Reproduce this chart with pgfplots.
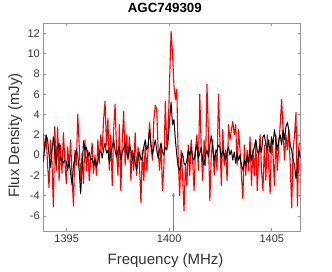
\documentclass[border=0pt]{standalone}
\usepackage{pgfplots}
\pgfplotsset{compat=1.18}
\usepackage{pgfplotstable}
\usepackage{fontspec}
\setmainfont{Liberation Sans}
\usetikzlibrary{arrows.meta}
\definecolor{axgray}{RGB}{150,150,150}
\pgfplotstableread{
f r b
1393.86 2.1 -0.7
1393.93 0.5 0.8
1394.00 1.8 2.0
1394.07 -1.0 1.5
1394.14 -3.2 0.0
1394.21 1.5 -1.2
1394.28 -0.5 0.3
1394.35 -5.1 1.8
1394.42 2.8 0.5
1394.49 -1.5 -1.0
1394.56 2.7 0.5
1394.63 -2.5 1.2
1394.70 1.0 -0.5
1394.77 -1.8 -0.3
1394.84 2.2 -0.8
1394.91 -0.5 -0.5
1394.98 -2.8 -0.6
1395.05 0.8 -1.5
1395.12 -1.2 -0.5
1395.19 1.5 -1.8
1395.26 -2.0 -2.9
1395.33 -5.0 -1.0
1395.40 0.5 -0.3
1395.47 -1.0 0.5
1395.54 4.0 0.0
1395.61 1.0 -1.5
1395.68 -2.5 -3.8
1395.75 0.2 -1.5
1395.82 -2.8 1.4
1395.89 1.5 0.5
1395.96 -1.5 0.8
1396.03 0.5 -0.2
1396.10 -2.5 0.3
1396.17 -0.5 -0.5
1396.24 1.2 -0.3
1396.31 -1.8 -1.0
1396.38 0.0 -0.4
1396.45 -2.0 -1.2
1396.52 1.5 -0.6
1396.59 -0.8 0.2
1396.66 2.0 0.5
1396.73 0.5 -0.3
1396.80 3.5 0.6
1396.87 5.3 1.2
1396.94 1.0 0.2
1397.01 3.6 0.5
1397.08 -1.5 -0.8
1397.15 2.0 0.3
1397.22 -3.0 0.8
1397.29 2.5 1.5
1397.36 5.0 0.5
1397.43 0.5 -0.2
1397.50 -2.0 0.5
1397.57 3.0 0.8
1397.64 -3.5 -0.5
1397.71 1.5 0.3
1397.78 4.3 0.7
1397.85 -1.0 1.2
1397.92 2.0 0.2
1397.99 -0.5 -0.3
1398.06 1.8 1.0
1398.13 -2.5 0.5
1398.20 0.5 -0.5
1398.27 -1.5 0.2
1398.34 2.2 -0.8
1398.41 -2.0 -1.5
1398.48 0.8 -0.5
1398.55 -1.0 0.3
1398.62 -4.7 -0.5
1398.69 0.5 -0.2
1398.76 -2.5 0.8
1398.83 1.0 1.5
1398.90 -1.5 0.5
1398.97 0.5 1.0
1399.04 3.2 2.5
1399.11 1.0 1.0
1399.18 -0.5 0.0
1399.25 3.5 0.8
1399.32 4.9 1.5
1399.39 4.5 0.5
1399.46 0.5 -0.3
1399.53 -1.5 0.5
1399.60 1.0 1.2
1399.67 -3.5 0.3
1399.74 -1.0 0.0
1399.81 5.3 0.8
1399.88 1.0 0.5
1399.95 2.5 1.5
1400.02 7.5 3.5
1400.09 12.2 5.2
1400.16 10.0 3.0
1400.23 6.8 3.5
1400.30 5.5 1.5
1400.37 6.5 0.0
1400.44 -0.5 -1.2
1400.51 -4.0 -1.5
1400.58 0.5 -0.5
1400.65 -2.0 0.2
1400.72 -5.5 -0.8
1400.79 -1.0 -1.0
1400.86 -3.0 -0.5
1400.93 1.0 0.5
1401.00 -2.0 0.0
1401.07 1.5 0.8
1401.14 -0.5 -0.3
1401.21 -3.5 -0.5
1401.28 0.5 0.5
1401.35 2.0 1.0
1401.42 -1.5 -0.3
1401.49 6.0 0.2
1401.56 0.5 0.8
1401.63 -2.5 -0.5
1401.70 1.5 -1.0
1401.77 -1.0 0.0
1401.84 7.0 0.5
1401.91 2.0 -0.2
1401.98 -4.5 1.0
1402.05 0.0 1.9
1402.12 1.5 0.8
1402.19 -2.0 -0.5
1402.26 0.5 0.2
1402.33 -1.5 0.5
1402.40 6.0 1.0
1402.47 1.5 0.8
1402.54 -3.0 -0.3
1402.61 2.5 0.5
1402.68 -1.0 0.0
1402.75 0.5 -0.5
1402.82 -2.5 0.3
1402.89 3.0 0.8
1402.96 1.5 0.0
1403.03 2.5 0.5
1403.10 3.3 -0.5
1403.17 2.0 0.3
1403.24 3.0 -0.8
1403.31 -1.0 0.2
1403.38 2.5 -0.5
1403.45 0.5 0.0
1403.52 -2.0 -1.0
1403.59 -4.3 -1.5
1403.66 1.0 -0.5
1403.73 -2.0 -1.0
1403.80 0.5 0.0
1403.87 -1.5 -0.8
1403.94 1.8 0.5
1404.01 -3.0 -0.5
1404.08 0.5 0.3
1404.15 -2.0 0.8
1404.22 1.5 1.5
1404.29 -3.5 0.5
1404.36 0.0 0.0
1404.43 2.0 1.0
1404.50 -1.5 0.3
1404.57 -3.5 1.8
1404.64 1.0 2.0
1404.71 -2.5 1.0
1404.78 2.0 0.5
1404.85 -1.0 1.5
1404.92 -3.8 0.2
1404.99 1.5 1.8
1405.06 0.0 1.0
1405.13 -3.0 2.5
1405.20 2.0 1.5
1405.27 -1.5 0.5
1405.34 1.0 1.5
1405.41 3.0 2.0
1405.48 5.5 1.0
1405.55 2.5 2.5
1405.62 -0.5 1.5
1405.69 2.0 2.8
1405.76 0.5 3.2
1405.83 2.5 2.5
1405.90 -1.0 1.0
1405.97 -5.2 0.5
1406.04 0.5 -0.5
1406.11 2.0 -1.0
1406.18 4.2 -2.3
1406.25 -5.0 -1.0
1406.32 1.0 0.5
1406.39 1.2 -0.3
}\spec
\begin{document}
\begin{tikzpicture}
\begin{axis}[
  at={(0,0)}, anchor=south west,
  scale only axis, width=257.4pt, height=208pt,
  xmin=1393.86, xmax=1406.41, ymin=-7.5, ymax=13,
  xtick={1395,1400,1405}, ytick={-6,-4,...,12},
  tick align=inside, major tick length=3pt,
  axis line style={axgray, line width=0.6pt},
  tick style={axgray, line width=0.6pt},
  /pgf/number format/assume math mode=true,
  /pgf/number format/1000 sep={},
  scaled ticks=false,
  ticklabel style={font=\fontsize{11}{13}\selectfont, text=black!80},
  xlabel={Frequency (MHz)}, ylabel={Flux Density (mJy)},
  label style={font=\fontsize{15}{18}\selectfont, text=black!80},
  xlabel style={at={(axis description cs:0.475,-0.142)}, anchor=center},
  ylabel style={at={(axis description cs:-0.109,0.46)}, anchor=center},
  title={AGC749309},
  title style={font=\bfseries\fontsize{13.3}{16}\selectfont, at={(axis description cs:0.472,1.044)}, anchor=center},
  clip=true,
]
\addplot[red, line width=1.1pt, line join=round] table[x=f, y=r] {\spec};
\addplot[black, line width=1.0pt, line join=round] table[x=f, y=b] {\spec};
\addplot[black!50, line width=0.6pt, -{Stealth[length=4pt,width=3pt]}] coordinates {(1400.2,-7.5) (1400.2,-3.7)};
\end{axis}
\path (-43.3pt,-38pt) rectangle (288.7pt,228pt);
\end{tikzpicture}
\end{document}
